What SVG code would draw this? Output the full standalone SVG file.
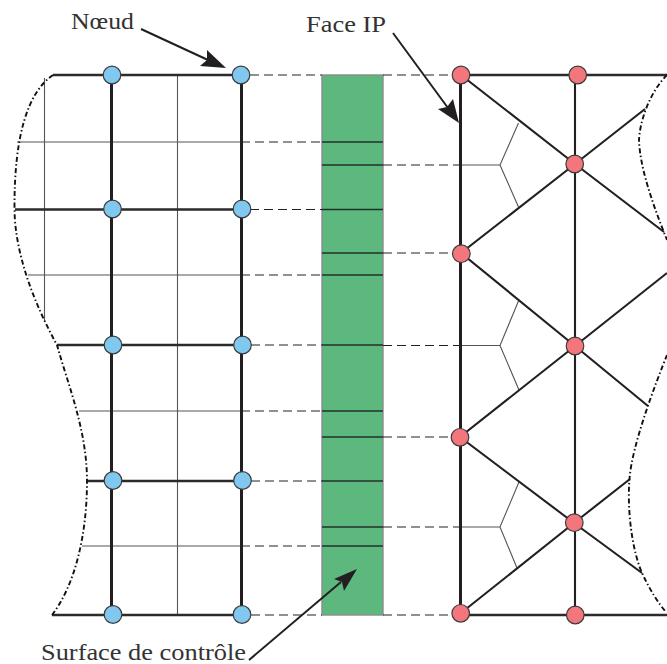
<svg xmlns="http://www.w3.org/2000/svg" width="667" height="664" viewBox="0 0 667 664">
<style>
.thick{stroke:#231f20;stroke-width:3;fill:none}
.med{stroke:#231f20;stroke-width:2.1;fill:none}
.horiz{stroke:#2b2b2b;stroke-width:2.4;fill:none}
.thin{stroke:#555;stroke-width:1.1;fill:none}
.bar{stroke:#22302a;stroke-width:1.3;fill:none}
.dash{stroke:#222;stroke-width:1.2;stroke-dasharray:9 5;fill:none}
.bound{stroke:#111;stroke-width:1.9;stroke-dasharray:5 2.5 1.5 2.5;fill:none}
.lead{stroke:#231f20;stroke-width:2;fill:none}
.head{fill:#231f20;stroke:none}
.blue{fill:#80c8f0;stroke:#3c3c3c;stroke-width:1.2}
.red{fill:#f2767c;stroke:#3c3c3c;stroke-width:1.2}
text{font-family:"Liberation Serif","Times New Roman",serif;font-size:23px;fill:#333}
</style>
<g id="surface">
<rect x="322" y="75" width="61" height="540" fill="#5cb87c" stroke="#8a8a8a" stroke-width="1.4"/>
<path class="bar" d="M322 142H383M322 165H383M322 209.500H383M322 253H383M322 275H383M322 345H383M322 411H383M322 437H383M322 481H383M322 527H383M322 546H383"/>
</g>
<g id="connectors">
<path class="thin" d="M44.500 78V322M177.500 75V614M17 142H241M28 275H241M79 411H241M82 546H241"/>
<path class="thin" d="M461 165H500L518.500 123M500 165L518.500 207M461 345.500H500L518.500 301M500 345.500L519 390M461 527H500L519 482M500 527L517 568"/>
<path class="dash" d="M250 75H322M241 142H322M250 209.500H322M241 275H322M251 345H322M241 411H322M251 481H322M241 546H322M251 615H322"/>
<path class="dash" d="M383 75H452M383 165H460M383 253H452M383 345.500H460M383 437H451M383 527H460M383 615H452"/>
<path class="horiz" d="M53 75H241M15 209.500H241M57 345H242M87 481H242M52 615H242M461 75H667M461 615H667"/>
<path class="thick" d="M111.500 75V614M241.500 75V614M460.500 75V614"/>
<path class="med" d="M461 75L575 164L664 232M645 109L575 164L461 253L575 346L648 406M667 273L575 346L460 437L574 523L642 573M630 479L574 523L461 613M575 75V615"/>
<path class="bound" d="M53 75C28 92 14 135 14.500 209.500C15 255 35 305 57 345C68 385 87 430 87 481C87 535 75 585 52 615"/>
<path class="bound" d="M667 75C650 92 640 120 639 140C640 170 655 210 667 240M667 355C655 385 632 445 629.500 479C627 510 632 550 642 573C650 590 658 603 666 612"/>
</g>
<g id="node-b1"><circle class="blue" cx="112" cy="75" r="8.800"/></g>
<g id="node-b2"><circle class="blue" cx="241" cy="75" r="8.800"/></g>
<g id="node-b3"><circle class="blue" cx="112.500" cy="209" r="8.800"/></g>
<g id="node-b4"><circle class="blue" cx="242" cy="209" r="8.800"/></g>
<g id="node-b5"><circle class="blue" cx="113" cy="345" r="8.800"/></g>
<g id="node-b6"><circle class="blue" cx="242.500" cy="345" r="8.800"/></g>
<g id="node-b7"><circle class="blue" cx="113" cy="480.500" r="8.800"/></g>
<g id="node-b8"><circle class="blue" cx="242.500" cy="480.500" r="8.800"/></g>
<g id="node-b9"><circle class="blue" cx="113" cy="614.500" r="8.800"/></g>
<g id="node-b10"><circle class="blue" cx="242" cy="614.500" r="8.800"/></g>
<g id="node-r1"><circle class="red" cx="461" cy="75" r="8.800"/></g>
<g id="node-r2"><circle class="red" cx="577.700" cy="75" r="8.800"/></g>
<g id="node-r3"><circle class="red" cx="574.700" cy="164" r="8.800"/></g>
<g id="node-r4"><circle class="red" cx="461.300" cy="253.700" r="8.800"/></g>
<g id="node-r5"><circle class="red" cx="575" cy="346" r="8.800"/></g>
<g id="node-r6"><circle class="red" cx="460" cy="437.300" r="8.800"/></g>
<g id="node-r7"><circle class="red" cx="574.300" cy="522.700" r="8.800"/></g>
<g id="node-r8"><circle class="red" cx="460.700" cy="613.300" r="8.800"/></g>
<g id="node-r9"><circle class="red" cx="575.300" cy="615" r="8.800"/></g>
<g id="label-noeud">
<text x="71" y="29" textLength="63" lengthAdjust="spacingAndGlyphs">Nœud</text>
<path class="lead" d="M141 29L208 60"/>
<polygon class="head" points="226,68 207,50 207,60 200,66"/>
</g>
<g id="label-face">
<text x="306" y="31.500" textLength="80" lengthAdjust="spacingAndGlyphs">Face IP</text>
<path class="lead" d="M393 33L448 108"/>
<polygon class="head" points="459,123 453,99 447,107 438,109"/>
</g>
<g id="label-surface">
<text x="41" y="660" textLength="205" lengthAdjust="spacingAndGlyphs">Surface de contrôle</text>
<path class="lead" d="M249 660L341 582"/>
<polygon class="head" points="357,569 334,579 342,582 344,591"/>
</g>
</svg>
